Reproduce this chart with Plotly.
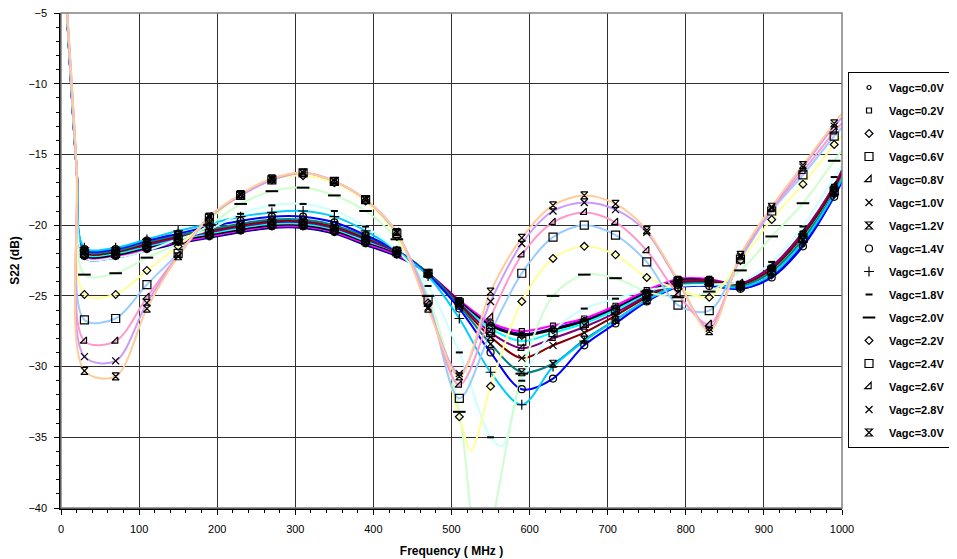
import plotly.graph_objects as go

# ---------------- data ----------------
FREQ = [30, 70, 110, 150, 190, 230, 270, 310, 350, 390, 430, 470, 510,
        550, 590, 630, 670, 710, 750, 790, 830, 870, 910, 950, 990]

VAGC_LABELS = ["Vagc=0.0V", "Vagc=0.2V", "Vagc=0.4V", "Vagc=0.6V", "Vagc=0.8V",
               "Vagc=1.0V", "Vagc=1.2V", "Vagc=1.4V", "Vagc=1.6V", "Vagc=1.8V",
               "Vagc=2.0V", "Vagc=2.2V", "Vagc=2.4V", "Vagc=2.6V", "Vagc=2.8V",
               "Vagc=3.0V"]

V00 = [-22.3, -22.3, -21.8, -21.3, -20.9, -20.5, -20.2, -20.2, -20.6, -21.4, -22.2, -23.4, -25.4,
       -27.0, -27.7, -27.3, -26.7, -25.8, -24.7, -24.0, -24.0, -24.5, -23.6, -21.4, -17.9]
V02 = [-22.2, -22.2, -21.7, -21.2, -20.8, -20.4, -20.1, -20.1, -20.5, -21.3, -22.1, -23.4, -25.3,
       -26.9, -27.5, -27.1, -26.6, -25.7, -24.6, -23.8, -23.8, -24.2, -23.0, -20.6, -17.3]
V04 = [-22.1, -22.1, -21.6, -21.1, -20.7, -20.3, -20.0, -20.0, -20.4, -21.2, -22.0, -23.4, -25.4,
       -27.1, -27.8, -27.4, -26.8, -25.9, -24.8, -23.9, -23.9, -24.3, -23.1, -20.8, -17.5]
V06 = [-22.0, -22.0, -21.5, -21.0, -20.6, -20.2, -19.9, -19.9, -20.3, -21.1, -21.9, -23.4, -25.5,
       -27.3, -28.2, -27.6, -26.95, -26.0, -24.9, -24.0, -24.0, -24.3, -23.2, -20.9, -17.6]
V08 = [-21.9, -21.9, -21.4, -20.9, -20.5, -20.1, -19.8, -19.8, -20.2, -21.0, -21.9, -23.4, -25.5,
       -27.6, -28.7, -28.0, -27.2, -26.2, -25.0, -24.0, -23.9, -24.1, -22.9, -20.5, -17.2]
V10 = [-21.9, -21.9, -21.3, -20.8, -20.4, -20.0, -19.7, -19.7, -20.1, -20.9, -21.8, -23.4, -25.6,
       -27.9, -29.4, -28.5, -27.6, -26.4, -25.1, -24.1, -24.0, -24.2, -23.1, -20.7, -17.4]
V12 = [-21.8, -21.8, -21.2, -20.7, -20.3, -19.9, -19.6, -19.6, -20.0, -20.8, -21.8, -23.4, -25.7,
       -28.4, -30.4, -29.8, -28.1, -26.7, -25.3, -24.2, -24.1, -24.3, -23.3, -21.0, -17.7]
V14 = [-21.7, -21.7, -21.1, -20.6, -20.1, -19.7, -19.4, -19.4, -19.8, -20.7, -21.8, -23.5, -25.9,
       -29.0, -31.6, -30.85, -28.5, -26.95, -25.4, -24.4, -24.3, -24.5, -23.7, -21.5, -18.0]
V16 = [-21.6, -21.6, -21.0, -20.4, -19.9, -19.4, -19.1, -19.0, -19.4, -20.4, -21.8, -23.6, -26.6,
       -30.4, -32.7, -30.0, -28.2, -26.7, -25.3, -24.3, -24.2, -24.4, -23.5, -21.2, -17.8]
V18 = [-22.3, -22.3, -21.8, -21.0, -20.3, -19.2, -18.6, -18.5, -19.0, -20.1, -21.8, -24.3, -29.0,
       -35.0, -31.0, -27.5, -25.9, -25.2, -24.6, -24.3, -24.2, -24.0, -22.6, -20.1, -16.6]
V20 = [-23.5, -23.4, -22.3, -21.3, -20.0, -18.5, -17.6, -17.35, -17.9, -19.0, -21.0, -25.0, -33.2,
       -41.5, -30.5, -25.0, -23.5, -23.75, -24.7, -25.1, -24.7, -23.2, -20.8, -18.45, -15.45]
V22 = [-24.9, -24.9, -23.2, -21.5, -19.6, -17.9, -16.8, -16.5, -17.0, -18.3, -20.8, -25.5, -33.55,
       -31.4, -25.4, -22.35, -21.5, -22.1, -23.7, -24.5, -25.1, -22.5, -19.6, -17.1, -14.3]
V24 = [-26.7, -26.6, -24.2, -22.0, -19.5, -17.9, -16.8, -16.3, -16.9, -18.2, -20.6, -25.3, -32.25,
       -27.6, -23.4, -20.85, -20.0, -20.7, -22.6, -25.65, -26.05, -22.4, -19.0, -16.45, -13.7]
V26 = [-28.2, -28.2, -25.1, -22.1, -19.4, -17.9, -16.8, -16.3, -16.9, -18.2, -20.5, -25.6, -31.3,
       -26.5, -22.1, -19.8, -19.1, -19.8, -21.8, -24.9, -27.0, -22.3, -18.9, -16.2, -13.4]
V28 = [-29.3, -29.6, -25.5, -22.2, -19.4, -17.9, -16.8, -16.3, -16.9, -18.2, -20.5, -25.8, -30.5,
       -25.4, -21.3, -19.0, -18.4, -18.9, -20.5, -24.0, -27.3, -22.2, -18.8, -15.9, -13.0]
V30 = [-30.3, -30.7, -25.9, -22.2, -19.4, -17.8, -16.7, -16.3, -16.9, -18.2, -20.5, -25.9, -30.7,
       -24.7, -20.9, -18.6, -17.9, -18.5, -20.35, -23.9, -27.5, -22.1, -18.7, -15.75, -12.8]

# line-only points (the drawn curves start above the chart and run on to 1000 MHz)
START_FREQ = [5, 20]
START_S22 = [-2.5, -16.0]
END_FREQ = 1000
END_S22 = [-16.8, -16.2, -16.4, -16.5, -16.1, -16.3, -16.6, -16.9, -16.7,
           -15.8, -14.7, -13.7, -13.1, -12.8, -12.4, -12.1]
# deep notches of the curves between marker points
DIP_FREQ = {9: [565], 10: [535], 11: [525]}
DIP_S22 = {9: [-35.6], 10: [-44.0], 11: [-35.9]}

SERIES = [V00, V02, V04, V06, V08, V10, V12, V14, V16, V18, V20, V22, V24, V26, V28, V30]

# ---------------- styles ----------------
LINE_COLORS = ["#000080", "#FF00FF", "#000000", "#00FFFF", "#800080", "#800000",
               "#008080", "#0000FF", "#00CCFF", "#CCFFFF", "#CCFFCC", "#FFFF99",
               "#99CCFF", "#FF99CC", "#CC99FF", "#FFCC99"]
SYMBOLS = ["circle-open", "square-open", "diamond-open", "square-open", "triangle-se-open",
           "x-thin-open", "hourglass-open", "circle-open", "cross-thin-open", "line-ew-open",
           "line-ew-open", "diamond-open", "square-open", "triangle-se-open", "x-thin-open",
           "hourglass-open"]
SIZES = [4, 5, 6, 8, 7, 7, 7, 7, 7, 5, 9, 6, 8, 7, 7, 7]

FONT = "Liberation Sans, Arial, sans-serif"

fig = go.Figure()

for i, vals in enumerate(SERIES):
    pts = list(zip(START_FREQ, START_S22)) + list(zip(FREQ, vals)) + [(END_FREQ, END_S22[i])]
    pts += list(zip(DIP_FREQ.get(i, []), DIP_S22.get(i, [])))
    pts.sort()
    fig.add_trace(go.Scatter(
        x=[p[0] for p in pts], y=[p[1] for p in pts], mode="lines",
        line=dict(color=LINE_COLORS[i], width=2, shape="spline", smoothing=0.9),
        showlegend=False, hoverinfo="skip", cliponaxis=True))

for i, vals in enumerate(SERIES):
    fig.add_trace(go.Scatter(
        x=FREQ, y=vals, mode="markers", name="<b>" + VAGC_LABELS[i] + "</b>",
        legendgroup="g%d" % i,
        marker=dict(symbol=SYMBOLS[i], size=SIZES[i], color="black",
                    line=dict(color="black", width=1.2 if i not in (9, 10) else 2)),
        cliponaxis=True))

# plot-area border (top/right grey)
fig.add_shape(type="rect", xref="paper", yref="paper", x0=0, y0=0, x1=1, y1=1,
              line=dict(color="#808080", width=1.5), layer="above")

# chart title: in the reference it sits above the picture and only its lowest pixels show
fig.add_annotation(text="<b>S22 (VCC = 5.0V TA = 25 C, VAGC = +0.0V to +3.0V )</b>",
                   xref="paper", yref="paper", x=0.338, y=1.0162,
                   xanchor="left", yanchor="bottom", showarrow=False,
                   font=dict(family=FONT, size=12, color="black"))

axis_common = dict(showline=True, linecolor="black", linewidth=1.5, ticks="outside",
                   ticklen=5, tickcolor="black", showgrid=True, gridcolor="#303030",
                   gridwidth=1, zeroline=False, automargin=False, ticklabelstandoff=5,
                   ticklabeloverflow="allow",
                   tickfont=dict(family=FONT, size=11, color="black"))

# the page adds an 8 px body margin, so the figure margins are reduced by 8 px
fig.update_layout(
    width=957, height=559,
    margin=dict(l=53, r=123, t=5, b=59, autoexpand=False),
    paper_bgcolor="white", plot_bgcolor="white",
    font=dict(family=FONT, size=11, color="black"),
    xaxis=dict(range=[0, 1000], dtick=100, tick0=0,
               minor=dict(dtick=20, ticks="outside", ticklen=3, tickcolor="black", showgrid=False),
               title=dict(text="<b>Frequency ( MHz )</b>", font=dict(family=FONT, size=12), standoff=13),
               **axis_common),
    yaxis=dict(range=[-40, -5], dtick=5, tick0=-40,
               minor=dict(dtick=1, ticks="outside", ticklen=3, tickcolor="black", showgrid=False),
               title=dict(text="<b>S22 (dB)</b>", font=dict(family=FONT, size=12), standoff=10),
               **axis_common),
    legend=dict(x=1.0077, xanchor="left", y=0.8808, yanchor="top",
                bordercolor="black", borderwidth=1, bgcolor="white",
                font=dict(family=FONT, size=11, color="black"),
                tracegroupgap=4, itemsizing="trace"),
    showlegend=True,
)

fig.write_html("out.html")
